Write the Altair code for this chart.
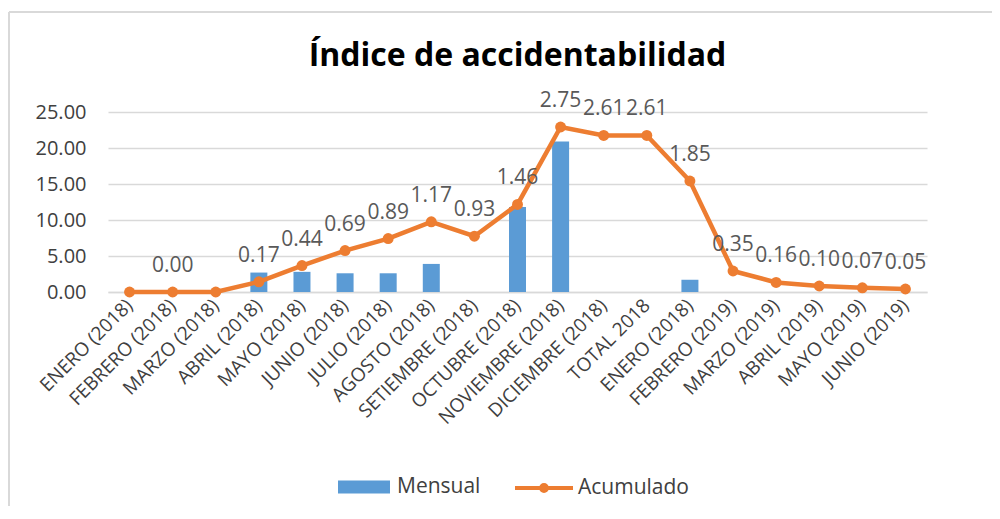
import altair as alt
import pandas as pd

categories = ["ENERO (2018)", "FEBRERO (2018)", "MARZO (2018)", "ABRIL (2018)", "MAYO (2018)",
              "JUNIO (2018)", "JULIO (2018)", "AGOSTO (2018)", "SETIEMBRE (2018)", "OCTUBRE (2018)",
              "NOVIEMBRE (2018)", "DICIEMBRE (2018)", "TOTAL 2018", "ENERO (2018)", "FEBRERO (2019)",
              "MARZO (2019)", "ABRIL (2019)", "MAYO (2019)", "JUNIO (2019)"]
mensual = [0, 0, 0, 2.7, 2.8, 2.6, 2.6, 3.9, 0, 11.8, 20.9, 0, 0, 1.7, 0, 0, 0, 0, 0]
acumulado = [0.00, 0.00, 0.00, 0.17, 0.44, 0.69, 0.89, 1.17, 0.93, 1.46, 2.75, 2.61, 2.61,
             1.85, 0.35, 0.16, 0.10, 0.07, 0.05]
etiquetas = ["", "0.00", "", "0.17", "0.44", "0.69", "0.89", "1.17", "0.93", "1.46", "2.75",
             "2.61", "2.61", "1.85", "0.35", "0.16", "0.10", "0.07", "0.05"]
left_ticks = [0, 5, 10, 15, 20, 25]
right_ticks = [0, 0.5, 1, 1.5, 2, 2.5, 3]

BLUE = "#5B9BD5"
ORANGE = "#ED7D31"
FONT = "Open Sans"

df = pd.DataFrame({
    "key": [f"{i:02d}|{c}" for i, c in enumerate(categories)],
    "mensual": mensual,
    "acumulado": acumulado,
    "etiqueta": etiquetas,
    "serie_b": "Mensual",
    "serie_l": "Acumulado",
})

x_enc = alt.X("key:O", title=None, sort=None,
              scale=alt.Scale(paddingInner=0, paddingOuter=0),
              axis=alt.Axis(labelExpr="split(datum.value, '|')[1]", labelAngle=-45,
                            labelAlign="right", labelBaseline="middle", labelPadding=10,
                            labelFont=FONT, labelFontSize=19, labelColor="#404040",
                            ticks=False, domainColor="#D9D9D9", domainWidth=1.5,
                            labelOverlap=False))

bars = alt.Chart(df).mark_bar(size=17, color=BLUE).encode(
    x=x_enc,
    y=alt.Y("mensual:Q", title=None,
            scale=alt.Scale(domain=[0, 25]),
            axis=alt.Axis(values=left_ticks, format=".2f", orient="left", domain=False,
                          ticks=False, labelPadding=22, labelFont=FONT, labelFontSize=20,
                          labelColor="#404040", gridColor="#D9D9D9", gridWidth=1.5)),
    color=alt.Color("serie_b:N", scale=alt.Scale(domain=["Mensual"], range=[BLUE]),
                    legend=alt.Legend(orient="none", legendX=230, legendY=349, title=None,
                                      padding=0, symbolType="M-1,-0.25H1V0.25H-1Z",
                                      symbolSize=2704, labelOffset=7, labelFont=FONT,
                                      labelFontSize=21, labelColor="#404040",
                                      symbolStrokeWidth=0)),
)

line = alt.Chart(df).mark_line(strokeWidth=4.5, color=ORANGE,
                               point=alt.OverlayMarkDef(size=120, filled=True, color=ORANGE)).encode(
    x=x_enc,
    y=alt.Y("acumulado:Q", title=None,
            scale=alt.Scale(domain=[0, 3]),
            axis=alt.Axis(values=right_ticks, format=".2f", orient="right", domain=False,
                          ticks=False, grid=False, labelPadding=22, labelFont=FONT,
                          labelFontSize=20, labelColor="#404040")),
    color=alt.Color("serie_l:N", scale=alt.Scale(domain=["Acumulado"], range=[ORANGE]),
                    legend=alt.Legend(orient="none", legendX=405, legendY=345, title=None,
                                      padding=0,
                                      symbolType="M-1,0H1M-0.1,0A0.1,0.1,0,1,1,0.1,0A0.1,0.1,0,1,1,-0.1,0Z",
                                      symbolSize=3364, symbolStrokeWidth=4,
                                      symbolStrokeColor=ORANGE, symbolFillColor=ORANGE,
                                      labelOffset=3, labelFont=FONT, labelFontSize=21,
                                      labelColor="#404040")),
)

labels = alt.Chart(df).mark_text(dy=-26, font=FONT, fontSize=21, color="#595959",
                                 baseline="middle").encode(
    x=x_enc,
    y=alt.Y("acumulado:Q", scale=alt.Scale(domain=[0, 3]), axis=None),
    text="etiqueta:N",
)

frame = alt.Chart(alt.Data(values=[{}]))
border_v = frame.mark_rule(color="#D9D9D9", strokeWidth=2).encode(
    x=alt.value(-99), y=alt.value(-100), y2=alt.value(420))
border_h = frame.mark_rule(color="#D9D9D9", strokeWidth=2).encode(
    x=alt.value(-99), x2=alt.value(900), y=alt.value(-100))

chart = alt.layer(
    border_v, border_h, bars, alt.layer(line, labels)
).resolve_scale(y="independent", color="independent").properties(
    width=819, height=180,
    title=alt.TitleParams("Índice de accidentabilidad", font=FONT, fontSize=32,
                          fontWeight="bold", color="#000000", anchor="middle",
                          frame="group", offset=42, dy=104),
    autosize=alt.AutoSizeParams(type="none"),
    padding={"left": 100, "top": 104, "right": 65, "bottom": 214},
).configure_view(stroke=None)

chart.save("out.html", embed_options={"renderer": "svg", "actions": False})
